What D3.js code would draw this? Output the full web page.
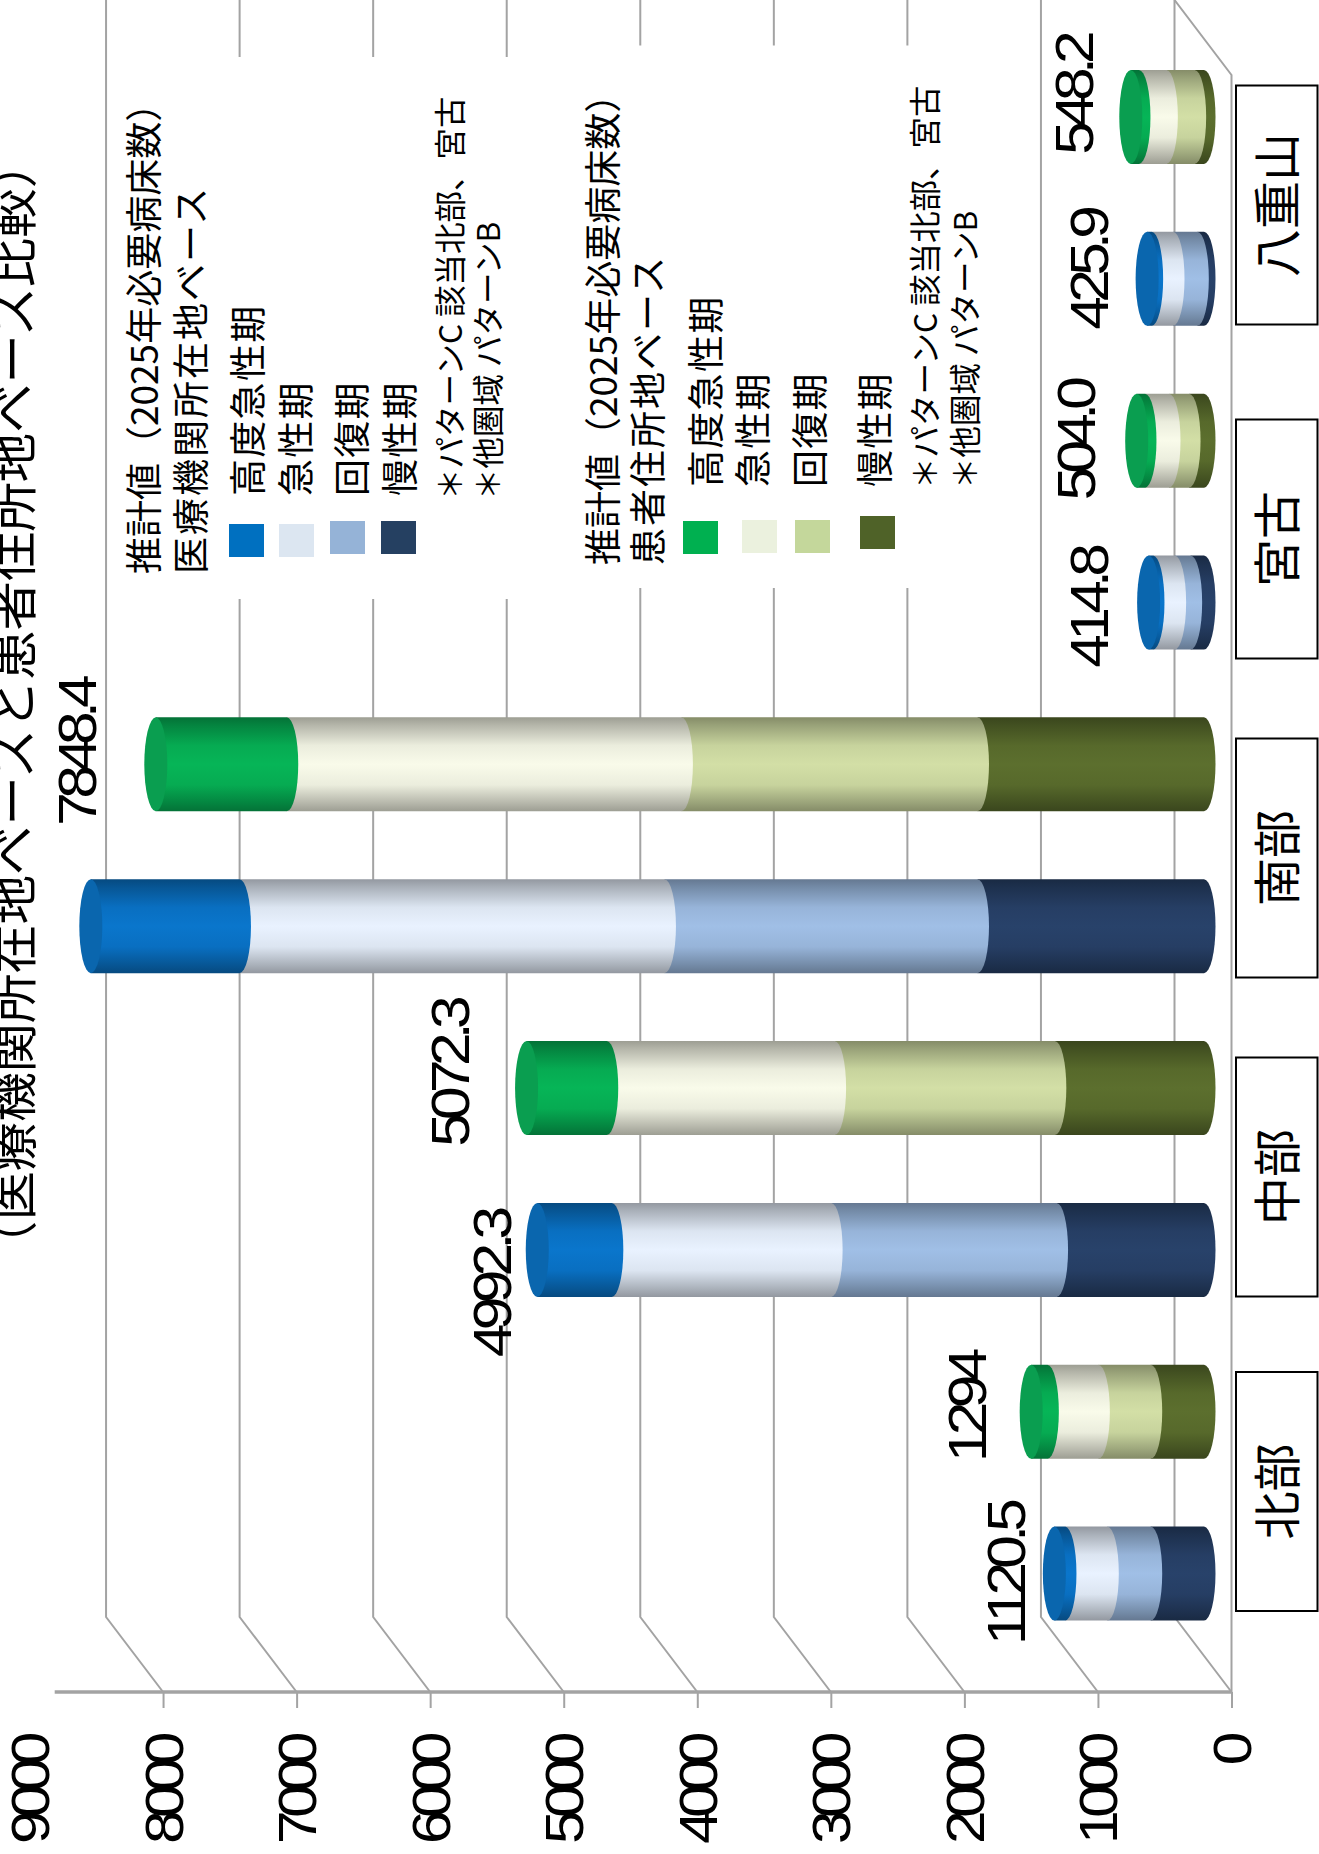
<!DOCTYPE html>
<html lang="ja">
<head>
<meta charset="utf-8">
<title>2025年必要病床数 推計値</title>
<script src="https://cdn.jsdelivr.net/npm/d3@7/dist/d3.min.js"></script>
<style>
  html, body { margin: 0; padding: 0; background: #fff; }
  svg { display: block; }
  text { fill: #000; }
  .cjk { font-family: "Noto Sans CJK JP", "Noto Sans", sans-serif; }
  .num { font-family: "Liberation Sans", Arial, sans-serif; }
</style>
</head>
<body>
<script>
// Regions, from the north of Okinawa to the outer islands
const regions = ["北部", "中部", "南部", "宮古", "八重山"];

// 2025 required beds by medical function: hospital-location basis
const hospitalChronic  = [399, 1104, 1696, 100, 50];
const hospitalRecovery = [325, 1688, 2344, 120, 182];
const hospitalAcute    = [317, 1642, 3182, 162, 160];
const hospitalHigh     = [79.5, 558.3, 1113, 32.8, 33.9];

// 2025 required beds by medical function: patient-residence basis
const patientChronic  = [399, 1117, 1696, 112, 70];
const patientRecovery = [392, 1649, 2217, 150, 212];
const patientAcute    = [382, 1706, 2955, 180, 205];
const patientHigh     = [121, 600.3, 980.4, 62, 61.2];

// Printed totals; the southern hospital-basis total has no printed figure
const hospitalTotalLabels = ["1120.5", "4992.3", null, "414.8", "425.9"];
const patientTotalLabels  = ["1294", "5072.3", "7848.4", "504.0", "548.2"];

const valueTicks = [0, 1000, 2000, 3000, 4000, 5000, 6000, 7000, 8000, 9000];

const titleText = "（医療機関所在地ベースと患者住所地ベース比較）";
const functionNames = ["高度急性期", "急性期", "回復期", "慢性期"];
const hospitalLegendHead = ["推計値（2025年必要病床数）", "医療機関所在地ベース"];
const patientLegendHead  = ["推計値（2025年必要病床数）", "患者住所地ベース"];
const footnotes = ["＊パターンC 該当北部、宮古", "＊他圏域 パターンB"];

// Fill colours: legend swatches and the lit centre of each cylinder band
const hospitalSwatches = ["#0070C0", "#DCE6F1", "#95B3D7", "#254061"];
const patientSwatches  = ["#00B050", "#EBF1DE", "#C4D79B", "#4F6228"];
const hospitalBands = ["#0A76CC", "#E9F2FF", "#A0BFE6", "#28426A"];
const patientBands  = ["#06B557", "#F9FBEA", "#D3DFA6", "#5C6F2E"];
const hospitalCap = "#0A66AE";
const patientCap  = "#0A9E50";

// ---- layout ----------------------------------------------------------
const W = 1319, H = 1854;
const gridColor = "#a3a3a3";
const axisY = 1692, wallY = 1617;      // front edge of the floor, back edge of the floor
const wallShift = 57, barShift = 27.5; // depth offsets of back wall and bar plane
const barRx = 11.5;

const svg = d3.select("body").append("svg")
  .attr("width", W).attr("height", H).attr("viewBox", `0 0 ${W} ${H}`);
const defs = svg.append("defs");

// The whole chart reads sideways: values grow to the left, regions run upward
const x = d3.scaleLinear().domain([0, 9000]).range([1231.5, 29.5]);
const y = d3.scaleBand().domain(regions).range([1654.5, 36]);
const basis = d3.scaleBand().domain(["patient", "hospital"]).range([0, y.bandwidth()]);
const barThickness = 94;

const barX = v => x(v) - barShift;

// ---- walls and floor ---------------------------------------------------
const grid = svg.append("g").attr("fill", "none")
  .attr("stroke", gridColor).attr("stroke-width", 2);

grid.selectAll("path.wall")
  .data(valueTicks.filter(v => v > 0 && v < 9000))
  .join("path")
  .attr("class", "wall")
  .attr("d", v => d3.line()([[x(v), axisY], [x(v) - wallShift, wallY], [x(v) - wallShift, 0]]));

// Floor outline at the zero value
grid.append("path")
  .attr("d", d3.line()([[x(0), axisY], [x(0) - wallShift, wallY], [x(0) - wallShift, 0]]));
grid.append("path")
  .attr("d", d3.line()([[x(0) - wallShift, 0], [x(0), 75], [x(0), axisY]]));

// Blank panels behind the two legends interrupt the gridlines
svg.append("rect").attr("x", 170).attr("y", 57).attr("width", 360).attr("height", 542).attr("fill", "#fff");
svg.append("rect").attr("x", 575).attr("y", 45.5).attr("width", 415).attr("height", 542.5).attr("fill", "#fff");

// ---- value axis --------------------------------------------------------
// Numerals are stretched along the reading direction and set tightly
const numStretch = 1.12;
const axis = svg.append("g").attr("transform", `translate(0,${axisY})`)
  .call(d3.axisBottom(x).tickValues(valueTicks).tickFormat(d3.format("d")).tickSize(16).tickPadding(0));
axis.select(".domain").remove();
axis.selectAll(".tick line").attr("stroke", gridColor).attr("stroke-width", 2)
  .filter(d => d === 9000).remove();
axis.selectAll(".tick text")
  .attr("class", "num")
  .attr("font-size", 54)
  .attr("letter-spacing", -6.6)
  .attr("text-anchor", "end")
  .attr("y", 0).attr("dy", 0)
  .attr("transform", `translate(19,47) rotate(-90) scale(${numStretch},1)`)
  .style("fill", "#000");
svg.append("line")
  .attr("x1", 54.7).attr("x2", x(0)).attr("y1", axisY).attr("y2", axisY)
  .attr("stroke", gridColor).attr("stroke-width", 3.5);

// ---- cylinders -----------------------------------------------------------
function bandGradient(id, centre) {
  const edge = d3.rgb(centre).darker(1.3);
  const mix = d3.interpolateRgb(edge, centre);
  const g = defs.append("linearGradient").attr("id", id)
    .attr("x1", 0).attr("y1", 0).attr("x2", 0).attr("y2", 1);
  [[0, 0], [0.08, 0.25], [0.3, 0.85], [0.5, 1], [0.72, 0.85], [0.92, 0.25], [1, 0]]
    .forEach(([o, t]) => g.append("stop").attr("offset", o).attr("stop-color", mix(t)));
}
const stackKeys = ["chronic", "recovery", "acute", "high"];
const bandIndex = { high: 0, acute: 1, recovery: 2, chronic: 3 };

function rows(high, acute, recovery, chronic) {
  return regions.map((region, i) => ({
    region, high: high[i], acute: acute[i], recovery: recovery[i], chronic: chronic[i]
  }));
}

function drawSeries(name, data, bands, capColor) {
  bands.forEach((c, i) => bandGradient(`${name}-${i}`, c));
  const stacked = d3.stack().keys(stackKeys)(data);
  const cy = region => y(region) + basis(name) + basis.bandwidth() / 2;
  const ry = barThickness / 2;

  // Base band first, so that each higher band's rounded rim overlaps the one below
  stacked.forEach(layer => {
    svg.append("g").attr("fill", `url(#${name}-${bandIndex[layer.key]})`)
      .selectAll("path").data(layer).join("path")
      .attr("d", d => {
        const x0 = barX(d[0]), x1 = barX(d[1]), c = cy(d.data.region);
        return `M${x1},${c - ry}L${x0},${c - ry}A${barRx},${ry} 0 0 1 ${x0},${c + ry}L${x1},${c + ry}Z`;
      });
  });
  // End cap at the stack total
  const top = stacked[stacked.length - 1];
  svg.append("g").attr("fill", capColor)
    .selectAll("ellipse").data(top).join("ellipse")
    .attr("cx", d => barX(d[1]))
    .attr("cy", d => cy(d.data.region))
    .attr("rx", barRx).attr("ry", ry);

  return { top, cy };
}

const hospitalBars = drawSeries("hospital",
  rows(hospitalHigh, hospitalAcute, hospitalRecovery, hospitalChronic), hospitalBands, hospitalCap);
const patientBars = drawSeries("patient",
  rows(patientHigh, patientAcute, patientRecovery, patientChronic), patientBands, patientCap);

// ---- total labels ----------------------------------------------------------
function sideText(parent, text, px, py, size, anchor, cls, spacing, stretch) {
  return parent.append("text")
    .attr("class", cls)
    .attr("transform", `translate(${px},${py}) rotate(-90)` + (stretch ? ` scale(${stretch},1)` : ""))
    .attr("text-anchor", anchor)
    .attr("font-size", size)
    .attr("letter-spacing", spacing || 0)
    .text(text);
}
// The text boxes sit by hand beside each bar: offsets from the cap and bar centre
const hospitalLabelNudge = [[-29.7, 1.3], [-26.6, 35], [0, 0], [-40.6, 6.3], [-39, -8]];
const patientLabelNudge  = [[-45, -3.5], [-57.5, -13.5], [-60, -11], [-41.7, 1], [-37.8, -21]];
const labels = svg.append("g");
function drawTotals(bars, texts, nudge) {
  bars.top.forEach((d, i) => {
    if (!texts[i]) return;
    sideText(labels, texts[i],
      barX(d[1]) + nudge[i][0], bars.cy(d.data.region) + nudge[i][1],
      54, "middle", "num", -6, numStretch);
  });
}
drawTotals(hospitalBars, hospitalTotalLabels, hospitalLabelNudge);
drawTotals(patientBars, patientTotalLabels, patientLabelNudge);

// ---- region boxes ------------------------------------------------------------
const regionBoxCentre = [1491.5, 1177, 858, 539, 205];
const boxes = svg.append("g");
regions.forEach((r, i) => {
  boxes.append("rect")
    .attr("x", 1236).attr("y", regionBoxCentre[i] - 119.5)
    .attr("width", 81.5).attr("height", 239)
    .attr("fill", "#fff").attr("stroke", "#000").attr("stroke-width", 2);
  sideText(boxes, r, 1295, regionBoxCentre[i], 48, "middle", "cjk");
});

// ---- title -------------------------------------------------------------------
sideText(svg, titleText, 31, 1270, 49.4, "start", "cjk");

// ---- legends -------------------------------------------------------------------
function drawLegend(spec, head, swatches) {
  const g = svg.append("g");
  head.forEach((t, i) => sideText(g, t, spec.headX[i], spec.headY, 37, "start", "cjk", i ? 2 : 0));
  functionNames.forEach((t, i) => {
    sideText(g, t, spec.nameX[i], spec.nameY, 37, "start", "cjk", 1.3);
    g.append("rect")
      .attr("x", spec.swatchX[i]).attr("y", spec.swatchY[i])
      .attr("width", 35).attr("height", 33).attr("fill", swatches[i]);
  });
  footnotes.forEach((t, i) => sideText(g, t, spec.noteX[i], spec.noteY, 31.5, "start", "cjk"));
}
drawLegend({
  headX: [158, 205], headY: 574,
  nameX: [262, 310, 366, 414], nameY: 496,
  swatchX: [229, 279, 330, 381], swatchY: [524, 524, 521, 521],
  noteX: [462, 500], noteY: 500
}, hospitalLegendHead, hospitalSwatches);
drawLegend({
  headX: [617, 662], headY: 565,
  nameX: [720, 767, 824, 889], nameY: 487,
  swatchX: [683, 742, 795, 860], swatchY: [521, 520, 520, 516],
  noteX: [937, 977], noteY: 489
}, patientLegendHead, patientSwatches);
</script>
</body>
</html>
